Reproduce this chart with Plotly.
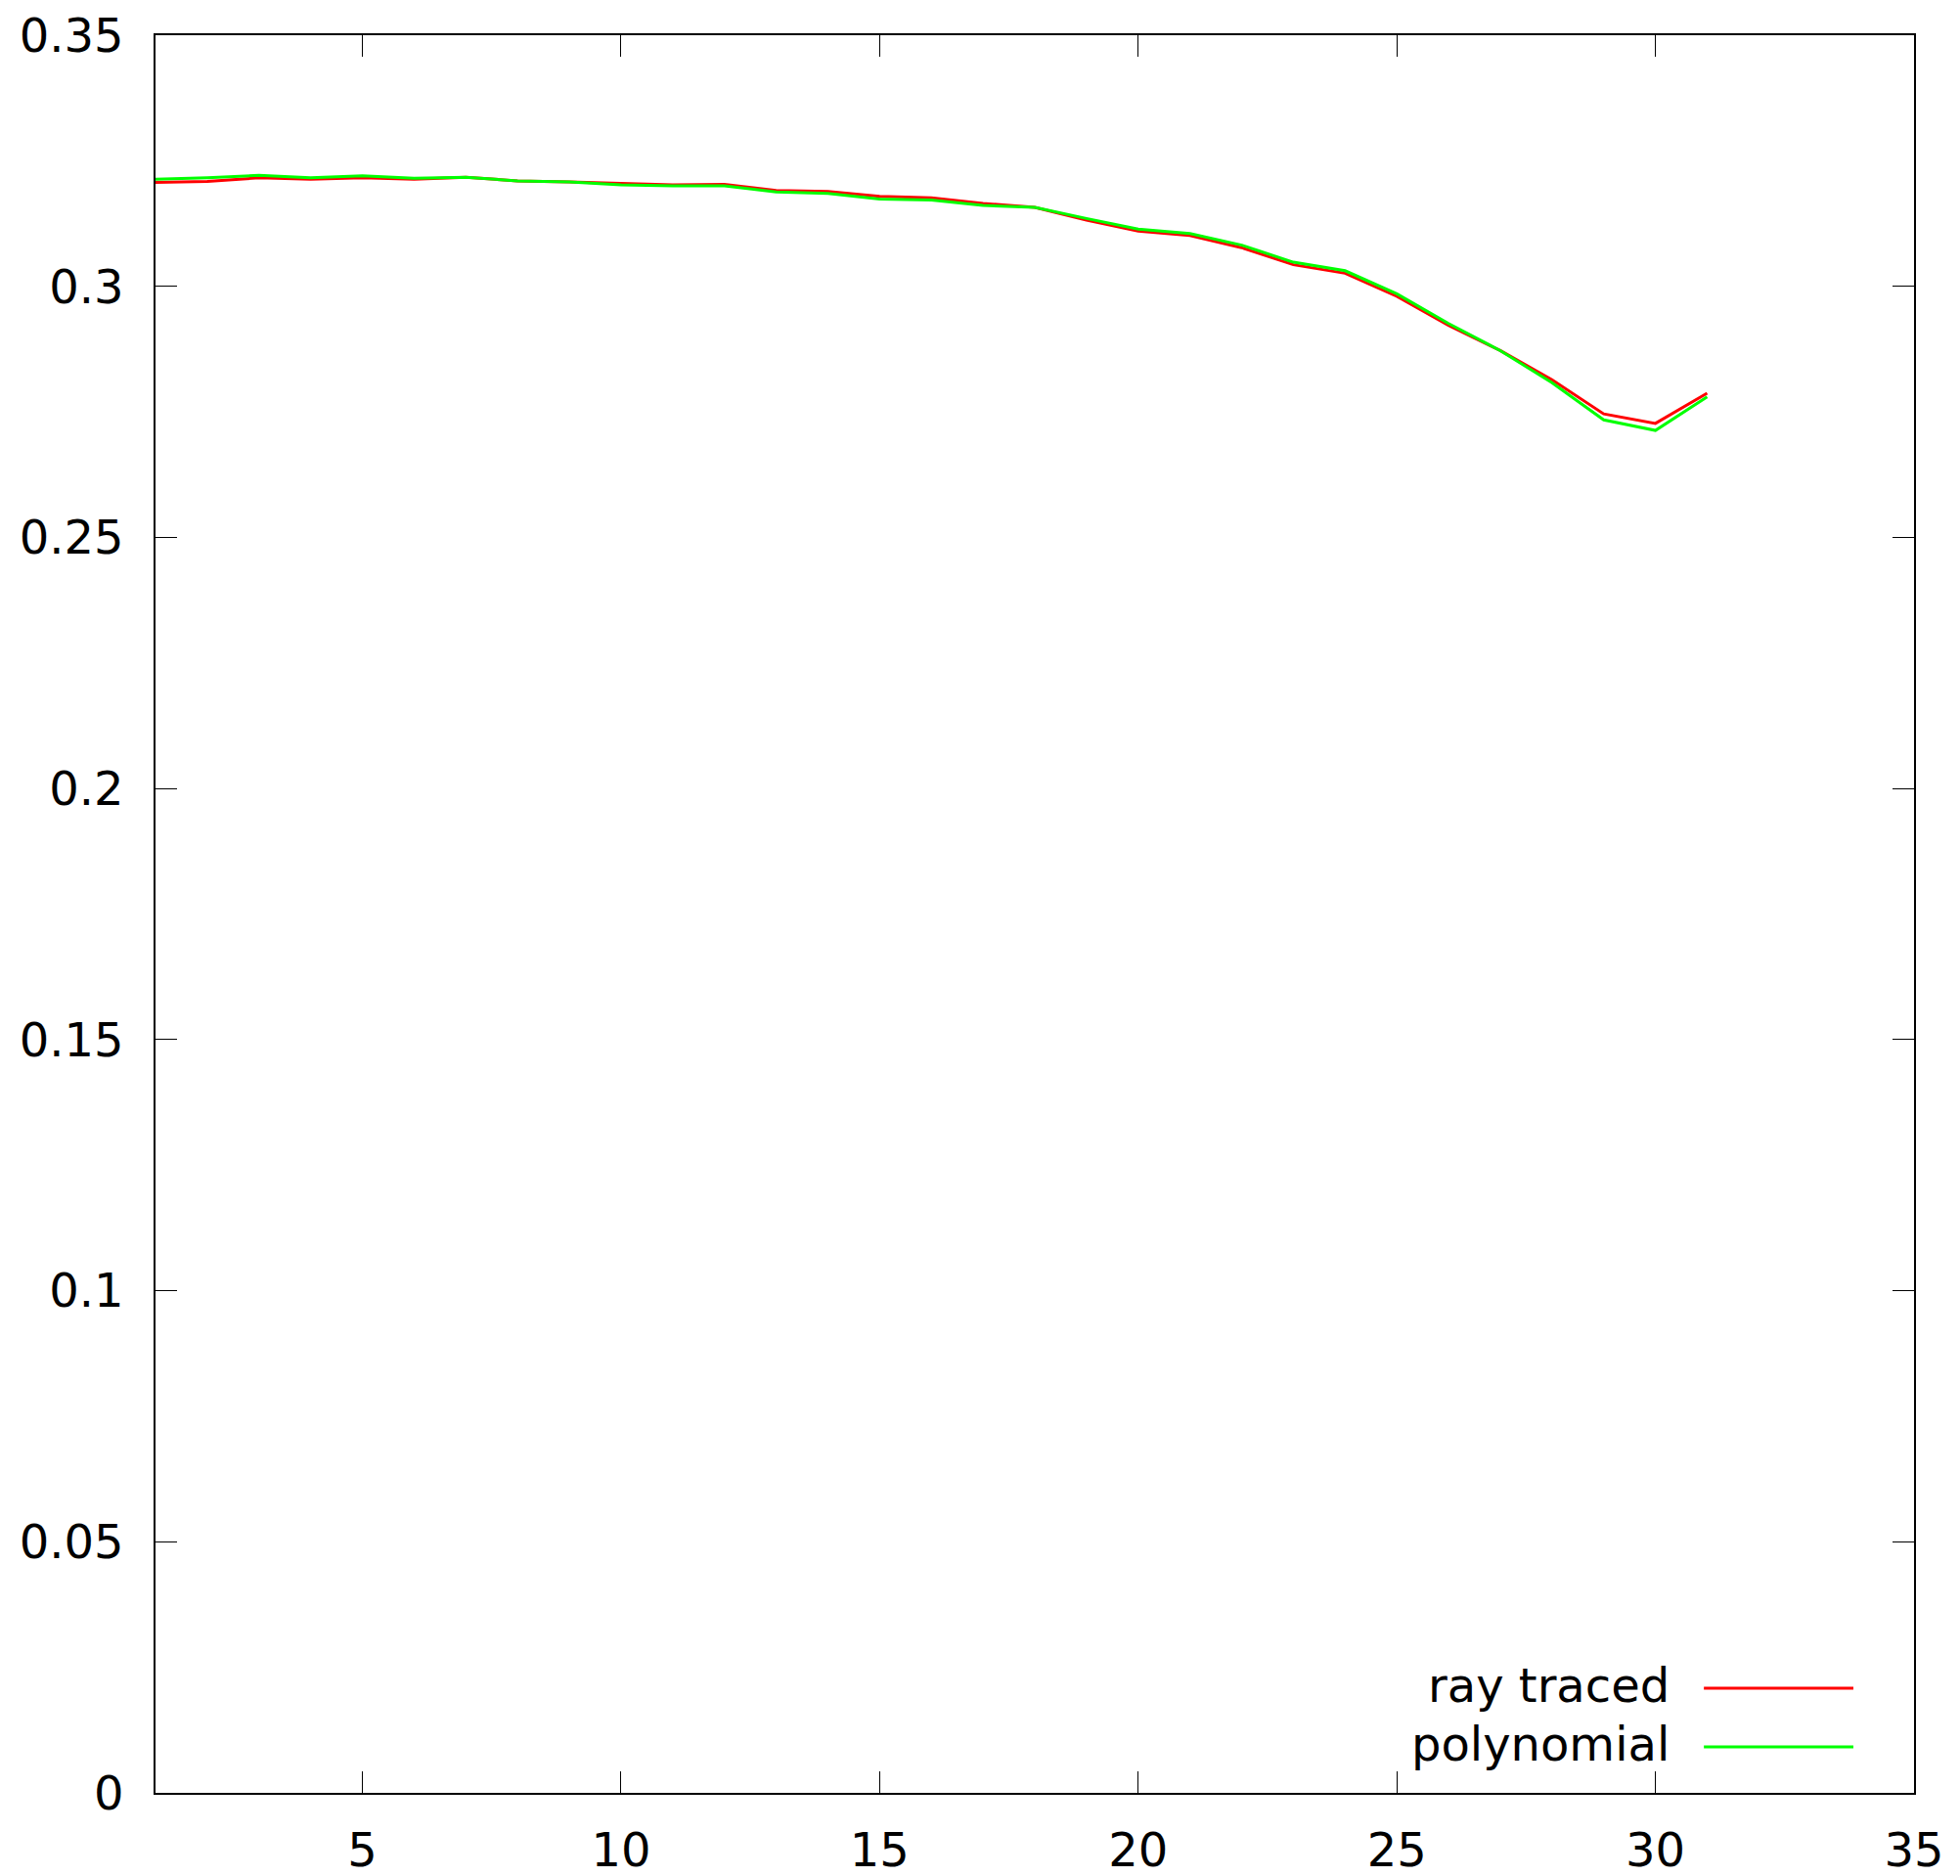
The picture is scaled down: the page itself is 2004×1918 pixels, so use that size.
import plotly.graph_objects as go

x_vals = list(range(1, 32))
ray_traced = [0.3207, 0.3209, 0.3216, 0.3213, 0.3216, 0.3213, 0.3217, 0.3210, 0.3208, 0.3205,
              0.3202, 0.3203, 0.3191, 0.3189, 0.3179, 0.3176, 0.3165, 0.3157, 0.3132, 0.3110,
              0.3101, 0.3077, 0.3043, 0.3026, 0.2980, 0.2922, 0.2872, 0.2814, 0.2746, 0.2727,
              0.2787]
polynomial = [0.3213, 0.3216, 0.3221, 0.3216, 0.3220, 0.3215, 0.3217, 0.3210, 0.3208, 0.3202,
              0.3200, 0.3200, 0.3188, 0.3185, 0.3174, 0.3172, 0.3161, 0.3157, 0.3135, 0.3114,
              0.3105, 0.3082, 0.3048, 0.3031, 0.2985, 0.2926, 0.2872, 0.2808, 0.2734, 0.2713,
              0.2780]
x_ticks = [5, 10, 15, 20, 25, 30, 35]
y_ticks = [0, 0.05, 0.1, 0.15, 0.2, 0.25, 0.3, 0.35]
y_tick_labels = ["0", "0.05", "0.1", "0.15", "0.2", "0.25", "0.3", "0.35"]
series_names = ["ray traced", "polynomial"]
series_colors = ["#ff0000", "#00ff00"]

FONT = "DejaVu Sans"
fig = go.Figure()
for name, ys, col in zip(series_names, [ray_traced, polynomial], series_colors):
    fig.add_trace(go.Scatter(x=x_vals, y=ys, mode="lines", name=name,
                             line=dict(color=col, width=3), showlegend=False))

# gnuplot-style legend: text on the left, sample line on the right
leg_y = [0.0595, 0.0262]
annotations = []
shapes = []
for name, col, yy in zip(series_names, series_colors, leg_y):
    annotations.append(dict(xref="paper", yref="paper", x=0.862, y=yy, text=name,
                            showarrow=False, xanchor="right", yanchor="middle", yshift=3,
                            font=dict(family=FONT, size=48, color="black")))
    shapes.append(dict(type="line", xref="paper", yref="paper", x0=0.8805, x1=0.9655,
                       y0=yy, y1=yy, line=dict(color=col, width=3)))

axis_common = dict(showline=True, linecolor="black", linewidth=1.5, mirror="ticks",
                   ticks="inside", ticklen=22, tickwidth=1, tickcolor="black",
                   showgrid=False, zeroline=False, automargin=False,
                   ticklabeloverflow="allow",
                   tickfont=dict(family=FONT, size=48, color="black"))

fig.update_layout(
    width=2004, height=1918,
    margin=dict(l=151, r=55, t=28, b=93),
    paper_bgcolor="white", plot_bgcolor="white",
    xaxis=dict(range=[1, 35], tickvals=x_ticks, ticklabelstandoff=16, **axis_common),
    yaxis=dict(range=[0, 0.35], tickvals=y_ticks, ticktext=y_tick_labels,
               ticklabelstandoff=21, **axis_common),
    annotations=annotations, shapes=shapes,
    font=dict(family=FONT),
)
fig.write_html("out.html")
